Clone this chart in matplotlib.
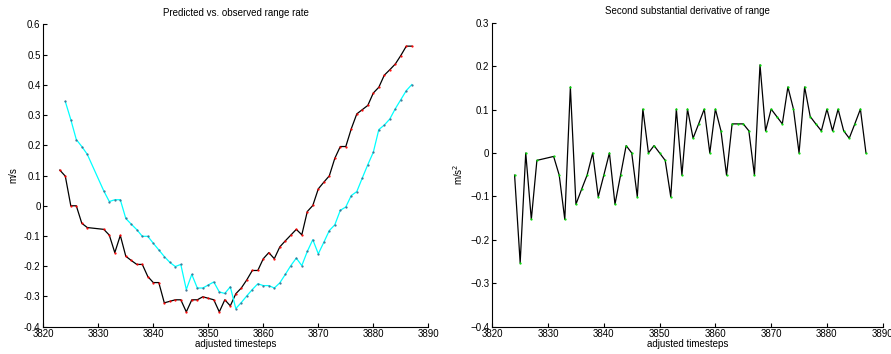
import numpy as np
import matplotlib
matplotlib.use("Agg")
import matplotlib.pyplot as plt

plt.rcParams['font.family'] = ['Liberation Sans', 'DejaVu Sans']
plt.rcParams['axes.unicode_minus'] = False

# observed range rate (black) - timesteps 3829, 3830 missing
t_obs = [3823, 3824, 3825, 3826, 3827, 3828, 3831, 3832, 3833, 3834, 3835, 3836,
         3837, 3838, 3839, 3840, 3841, 3842, 3843, 3844, 3845, 3846, 3847, 3848,
         3849, 3850, 3851, 3852, 3853, 3854, 3855, 3856, 3857, 3858, 3859, 3860,
         3861, 3862, 3863, 3864, 3865, 3866, 3867, 3868, 3869, 3870, 3871, 3872,
         3873, 3874, 3875, 3876, 3877, 3878, 3879, 3880, 3881, 3882, 3883, 3884,
         3885, 3886, 3887]
obs = [0.118, 0.098, 0.0, 0.0, -0.058, -0.072, -0.078, -0.097, -0.155, -0.098, -0.167, -0.181,
       -0.194, -0.194, -0.234, -0.254, -0.254, -0.321, -0.316, -0.311, -0.311, -0.351, -0.311, -0.311,
       -0.301, -0.306, -0.311, -0.351, -0.311, -0.331, -0.291, -0.272, -0.245, -0.214, -0.214, -0.175,
       -0.155, -0.175, -0.136, -0.116, -0.097, -0.078, -0.096, -0.019, 0.001, 0.056, 0.078, 0.099,
       0.157, 0.196, 0.196, 0.255, 0.304, 0.318, 0.332, 0.373, 0.392, 0.432, 0.450, 0.469,
       0.497, 0.528, 0.528]

# predicted range rate (cyan)
t_pred = [3824, 3825, 3826, 3827, 3828, 3831, 3832, 3833, 3834, 3835, 3836,
          3837, 3838, 3839, 3840, 3841, 3842, 3843, 3844, 3845, 3846, 3847, 3848,
          3849, 3850, 3851, 3852, 3853, 3854, 3855, 3856, 3857, 3858, 3859, 3860,
          3861, 3862, 3863, 3864, 3865, 3866, 3867, 3868, 3869, 3870, 3871, 3872,
          3873, 3874, 3875, 3876, 3877, 3878, 3879, 3880, 3881, 3882, 3883, 3884,
          3885, 3886, 3887]
pred = [0.345, 0.285, 0.219, 0.196, 0.170, 0.049, 0.014, 0.020, 0.020, -0.042, -0.061,
        -0.079, -0.101, -0.101, -0.124, -0.146, -0.168, -0.187, -0.201, -0.194, -0.277, -0.227, -0.272,
        -0.272, -0.262, -0.252, -0.285, -0.290, -0.268, -0.340, -0.320, -0.298, -0.277, -0.258, -0.264,
        -0.264, -0.272, -0.255, -0.227, -0.198, -0.173, -0.198, -0.151, -0.112, -0.159, -0.121, -0.082,
        -0.063, -0.015, -0.004, 0.034, 0.047, 0.092, 0.136, 0.177, 0.252, 0.267, 0.287, 0.321,
        0.351, 0.381, 0.401]

# second substantial derivative of range
t_d2 = [3824, 3825, 3826, 3827, 3828, 3831, 3832, 3833, 3834, 3835, 3836,
        3837, 3838, 3839, 3840, 3841, 3842, 3843, 3844, 3845, 3846, 3847, 3848,
        3849, 3850, 3851, 3852, 3853, 3854, 3855, 3856, 3857, 3858, 3859, 3860,
        3861, 3862, 3863, 3864, 3865, 3866, 3867, 3868, 3869, 3870, 3871, 3872,
        3873, 3874, 3875, 3876, 3877, 3878, 3879, 3880, 3881, 3882, 3883, 3884,
        3885, 3886, 3887]
d2 = [-0.051, -0.253, 0.0, -0.153, -0.017, -0.008, -0.051, -0.153, 0.152, -0.118, -0.084,
      -0.051, 0.0, -0.101, -0.051, 0.0, -0.118, -0.051, 0.017, 0.0, -0.101, 0.101, 0.0,
      0.017, 0.0, -0.017, -0.101, 0.101, -0.051, 0.101, 0.034, 0.067, 0.101, 0.0, 0.101,
      0.051, -0.051, 0.067, 0.067, 0.067, 0.051, -0.051, 0.203, 0.051, 0.101, 0.084, 0.067,
      0.152, 0.101, 0.0, 0.152, 0.084, 0.067, 0.051, 0.101, 0.051, 0.101, 0.051, 0.034,
      0.067, 0.101, 0.0]


def matlab_axes(ax):
    ax.spines['top'].set_visible(False)
    ax.spines['right'].set_visible(False)
    for s in ['left', 'bottom']:
        ax.spines[s].set_linewidth(0.8)
    ax.tick_params(direction='in', length=3, width=0.8, labelsize=7, pad=2)
    ax.set_xlim(3820, 3890)
    ax.set_xticks(np.arange(3820, 3891, 10))
    ax.set_xlabel('adjusted timesteps', fontsize=7, labelpad=0)


fig = plt.figure(figsize=(8.91, 3.54), dpi=100)

ax1 = fig.add_axes([0.0486, 0.0771, 0.4321, 0.854])
ax1.plot(t_obs, obs, color='black', linewidth=0.9, marker='.', markersize=1.2,
         markerfacecolor='red', markeredgecolor='red')
ax1.plot(t_pred, pred, color='cyan', linewidth=0.9, marker='.', markersize=1.2,
         markerfacecolor='#3a6f8f', markeredgecolor='#3a6f8f')
matlab_axes(ax1)
ax1.set_ylim(-0.4, 0.6)
ax1.set_yticks(np.arange(-0.4, 0.61, 0.1))
ax1.set_yticklabels(['-0.4', '-0.3', '-0.2', '-0.1', '0', '0.1', '0.2', '0.3', '0.4', '0.5', '0.6'])
ax1.set_ylabel('m/s', fontsize=7, labelpad=4)
ax1.set_title('Predicted vs. observed range rate', fontsize=7, pad=6)

ax2 = fig.add_axes([0.5525, 0.0771, 0.4382, 0.8588])
ax2.plot(t_d2, d2, color='black', linewidth=0.9, marker='.', markersize=1.2,
         markerfacecolor='#00dd00', markeredgecolor='#00dd00')
matlab_axes(ax2)
ax2.set_ylim(-0.4, 0.3)
ax2.set_yticks(np.arange(-0.4, 0.31, 0.1))
ax2.set_yticklabels(['\u22120.4', '\u22120.3', '\u22120.2', '\u22120.1', '0', '0.1', '0.2', '0.3'])
ax2.set_ylabel('m/s$^2$', fontsize=7, labelpad=4)
ax2.set_title('Second substantial derivative of range', fontsize=7, pad=6)

fig.savefig('out.png', dpi=100)
